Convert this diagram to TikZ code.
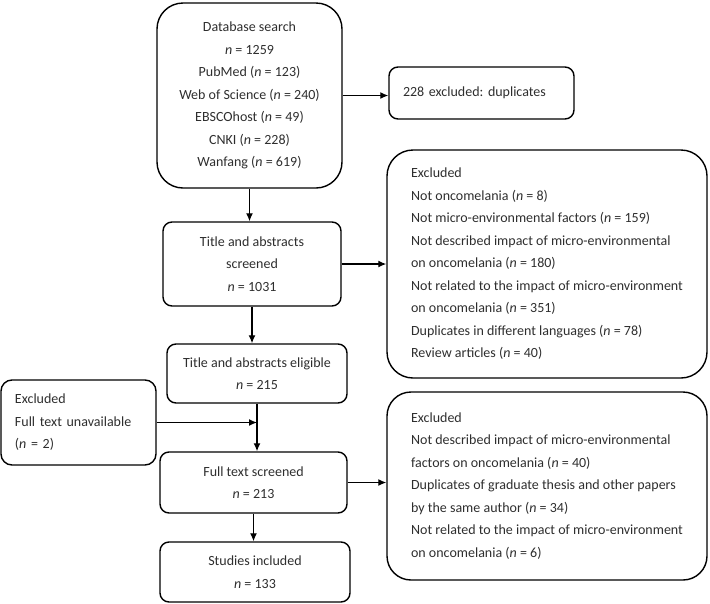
\documentclass[tikz,border=0pt]{standalone}
\usepackage{fontspec}
\setmainfont{Carlito}
\usetikzlibrary{arrows.meta}
\frenchspacing
\newcommand{\nv}[1]{\textit{n} = #1}
\tikzset{
  box/.style={draw,line width=1.4pt,rounded corners=9pt,align=center,inner sep=0pt,
    font=\fontsize{14pt}{22.5pt}\selectfont,text=black!82},
  arr/.style={line width=1.3pt,-{Latex[length=8pt,width=7pt]}}
}
\begin{document}
\begin{tikzpicture}[x=1pt,y=1pt]
    \useasboundingbox (0,0) rectangle (710,-603);
    %% middle column
    \node[box,rounded corners=26pt,minimum width=185pt,minimum height=185pt] (db) at (249.5,-95.5)
      {Database search\\\nv{1259}\\PubMed (\nv{123})\\Web of Science (\nv{240})\\EBSCOhost (\nv{49})\\CNKI (\nv{228})\\Wanfang (\nv{619})};
    \node[box,minimum width=178pt,minimum height=84pt] (scr) at (252,-264)
      {Title and abstracts\\screened\\\nv{1031}};
    \node[box,minimum width=180pt,minimum height=59pt] (elig) at (257,-373.5)
      {Title and abstracts eligible\\\nv{215}};
    \node[box,minimum width=187pt,minimum height=61pt] (full) at (253.5,-482.5)
      {Full text screened\\\nv{213}};
    \node[box,minimum width=190pt,minimum height=60pt] (incl) at (255,-572)
      {Studies included\\\nv{133}};
    %% excluded boxes
    \node[box,minimum width=185pt,minimum height=52pt,text width=157pt,align=left] (dup) at (481.5,-93)
      {228 excluded: duplicates};
    \node[box,rounded corners=26pt,minimum width=320pt,minimum height=228pt,align=left] (exa) at (547,-264)
      {Excluded\\Not oncomelania (\nv{8})\\Not micro-environmental factors (\nv{159})\\Not described impact of micro-environmental\\on oncomelania (\nv{180})\\Not related to the impact of micro-environment\\on oncomelania (\nv{351})\\Duplicates in different languages (\nv{78})\\Review articles (\nv{40})};
    \node[box,rounded corners=24pt,minimum width=320pt,minimum height=188pt,align=left] (exb) at (547,-486)
      {Excluded\\Not described impact of micro-environmental\\factors on oncomelania (\nv{40})\\Duplicates of graduate thesis and other papers\\by the same author (\nv{34})\\Not related to the impact of micro-environment\\on oncomelania (\nv{6})};
    \node[box,rounded corners=11pt,minimum width=155pt,minimum height=85pt,text width=127pt,align=left] (exc) at (78.5,-422.5)
      {Excluded\\Full text unavailable\\(\nv{2})};
    %% arrows
    \draw[arr] (db.east) -- (db.east -| dup.west);
    \draw[arr] (db.south) -- (db.south |- scr.north);
    \draw[arr] (scr.east) -- (scr.east -| exa.west);
    \draw[arr] (scr.south) -- (scr.south |- elig.north);
    \draw[arr] (elig.south) -- (elig.south |- full.north);
    \draw[arr] (exc.east) -- (exc.east -| elig.south);
    \draw[arr] (full.east) -- (full.east -| exb.west);
    \draw[arr] (full.south) -- (full.south |- incl.north);
\end{tikzpicture}
\end{document}
